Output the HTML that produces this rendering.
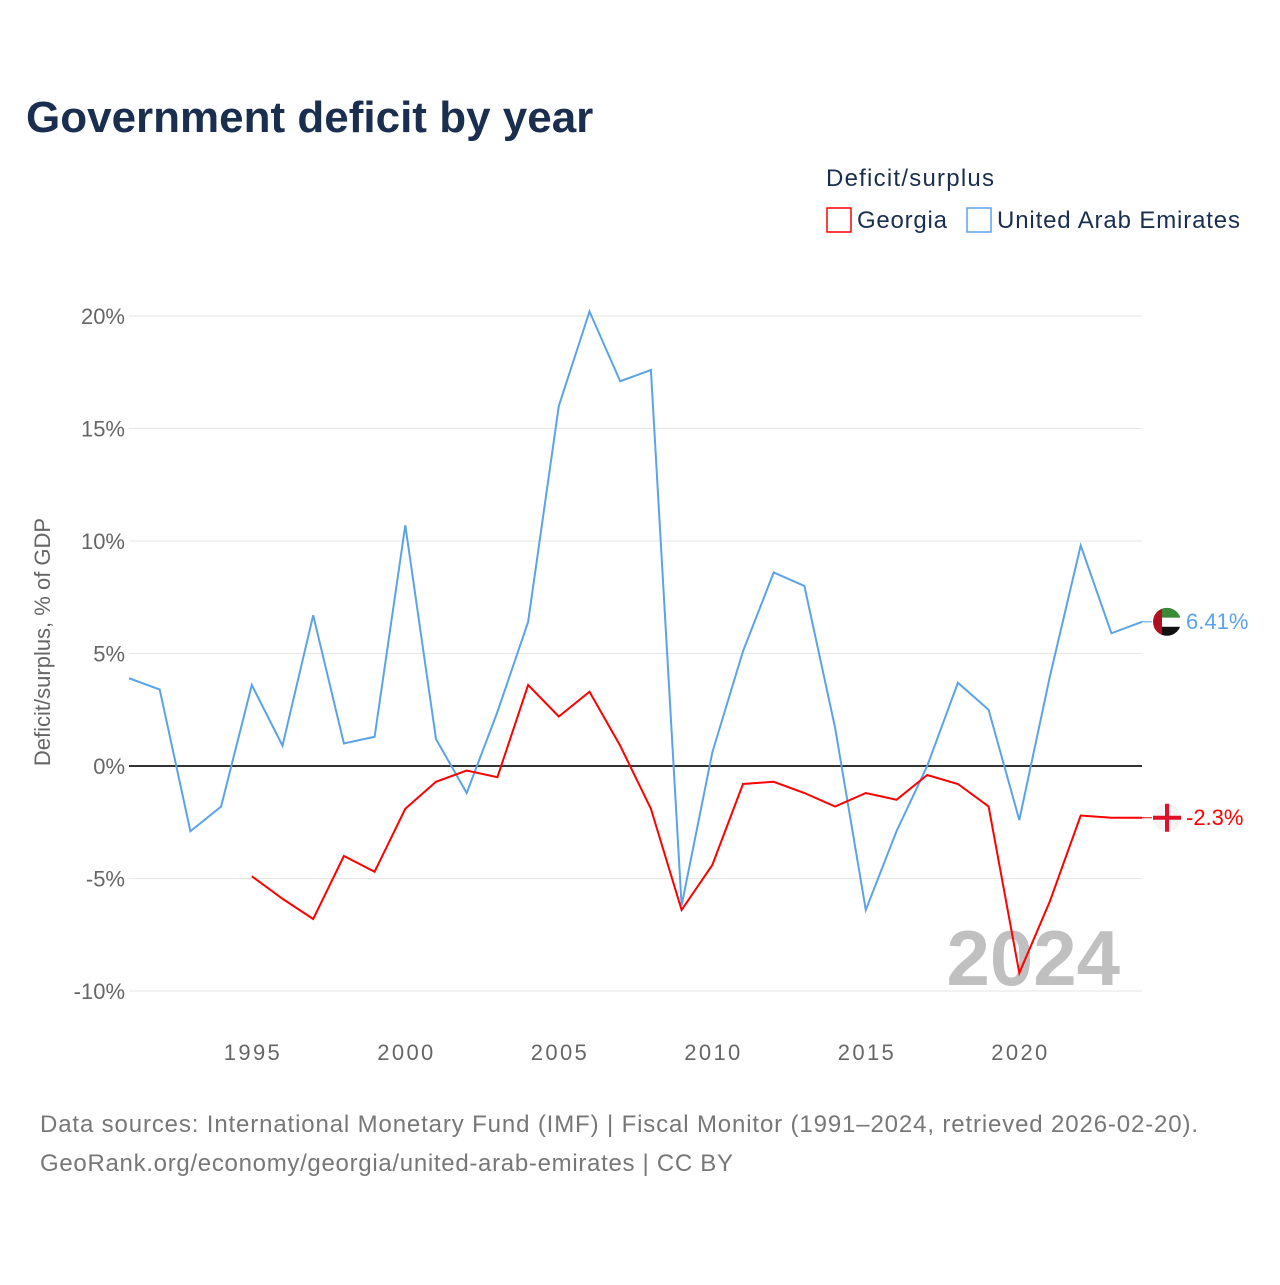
<!DOCTYPE html>
<html><head><meta charset="utf-8"><style>
body{margin:0;background:#fff;font-family:"Liberation Sans",sans-serif}
</style></head><body>
<svg id="c" width="1280" height="1280" xmlns="http://www.w3.org/2000/svg">
<rect width="1280" height="1280" fill="#fff"/>
<text x="26" y="132" font-size="44" font-weight="bold" fill="#1a2e4f">Government deficit by year</text>
<text x="826" y="186" font-size="24" fill="#1a2e4f" textLength="168">Deficit/surplus</text>
<g><rect x="827" y="208" width="24" height="24" fill="none" stroke="#ff0000" stroke-width="1.5"/><text x="857" y="228" font-size="24" fill="#1a2e4f" textLength="90">Georgia</text></g>
<g><rect x="967" y="208" width="24" height="24" fill="none" stroke="#5ba3e8" stroke-width="1.5"/><text x="997" y="228" font-size="24" fill="#1a2e4f" textLength="243">United Arab Emirates</text></g>
<text transform="translate(50,642) rotate(-90)" text-anchor="middle" font-size="22" fill="#666">Deficit/surplus, % of GDP</text>
<text x="1120" y="985" text-anchor="end" font-size="78" font-weight="bold" fill="#c0c0c0">2024</text>
<g id="grid"></g><g id="lines"></g>
<text x="40" y="1132" font-size="24" fill="#777" textLength="1158">Data sources: International Monetary Fund (IMF) | Fiscal Monitor (1991–2024, retrieved 2026-02-20).</text>
<text x="40" y="1171" font-size="24" fill="#777" textLength="693">GeoRank.org/economy/georgia/united-arab-emirates | CC BY</text>
</svg>
<script>
const years=[];for(let y=1991;y<=2024;y++)years.push(y);
const uae=[3.9,3.4,-2.9,-1.8,3.6,0.9,6.7,1.0,1.3,10.7,1.2,-1.2,2.4,6.4,16.0,20.2,17.1,17.6,-6.2,0.6,5.1,8.6,8.0,1.7,-6.4,-2.9,0.0,3.7,2.5,-2.4,4.0,9.8,5.9,6.41];
const georgia=[null,null,null,null,-4.9,-5.9,-6.8,-4.0,-4.7,-1.9,-0.7,-0.2,-0.5,3.6,2.2,3.3,0.9,-1.9,-6.4,-4.4,-0.8,-0.7,-1.2,-1.8,-1.2,-1.5,-0.4,-0.8,-1.8,-9.2,-6.0,-2.2,-2.3,-2.3];
const yTicks=[-10,-5,0,5,10,15,20];
const xTicks=[1995,2000,2005,2010,2015,2020];
const X=y=>129+(y-1991)*30.7, Y=v=>766-v*22.5;
const NS="http://www.w3.org/2000/svg";
const g=document.getElementById('grid'), L=document.getElementById('lines');
function mk(t,a,p){const e=document.createElementNS(NS,t);for(const k in a)e.setAttribute(k,a[k]);p.appendChild(e);return e;}
yTicks.forEach(v=>{
 const l=mk('line',{x1:129,x2:1142,y1:Y(v),y2:Y(v),stroke:v===0?'#333':'#e6e6e6','stroke-width':v===0?2:1},g);
 
 
 const t=mk('text',{x:125,y:Y(v)+8,'text-anchor':'end','font-size':22,fill:'#666'},g);t.textContent=v+'%';
 
 
});
xTicks.forEach(y=>{
 const t=mk('text',{x:X(y),y:1060,'text-anchor':'middle','font-size':22,fill:'#666',textLength:56},g);t.textContent=y;
 
 
});
function line(vals,col,name){
 let d='';vals.forEach((v,i)=>{if(v===null)return;d+=(d?'L':'M')+X(years[i])+','+Y(v);});
 const p=mk('path',{d:d,fill:'none',stroke:col,'stroke-width':2},L);
 
 
}
line(uae,'#5ba3e8','uae-line');line(georgia,'#ff0000','georgia-line');
function endLabel(v,col,txt,name,flag){
 const y=Y(v);
 mk('line',{x1:1142,x2:1152,y1:y,y2:y,stroke:col,'stroke-width':1},L);
 const c=mk('g',{},L);
 
 
 c.innerHTML=flag(y);
 const t=mk('text',{x:1186,y:y+7,'font-size':22,fill:col},L);t.textContent=txt;
 
 
}
endLabel(uae[33],'#5ba3e8','6.41%','uae',y=>`<clipPath id="cu"><circle cx="1167" cy="${y}" r="14"/></clipPath><g clip-path="url(#cu)"><rect x="1153" y="${y-14}" width="28" height="10" fill="#3a8a3a"/><rect x="1153" y="${y-4}" width="28" height="9" fill="#fff"/><rect x="1153" y="${y+5}" width="28" height="10" fill="#111"/><rect x="1153" y="${y-14}" width="9" height="28" fill="#b01020"/></g>`);
endLabel(georgia[33],'#ff0000','-2.3%','georgia',y=>`<circle cx="1167" cy="${y}" r="14" fill="#f4f4f4"/><rect x="1165" y="${y-14}" width="4" height="28" fill="#e0102a"/><rect x="1153" y="${y-2}" width="28" height="4" fill="#e0102a"/>`);
</script>
</body></html>
